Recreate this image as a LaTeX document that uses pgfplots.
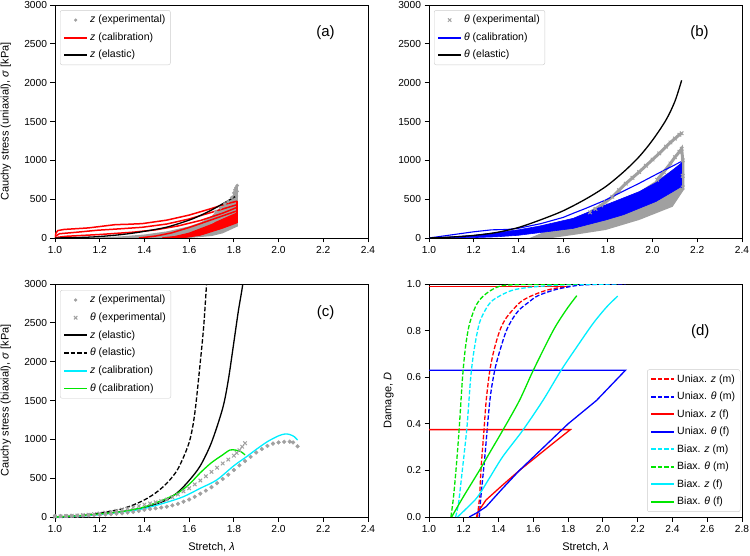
\documentclass[border=0pt]{standalone}
\usepackage{fontspec}
\setmainfont{Liberation Sans}
\usepackage{pgfplots}
\pgfplotsset{compat=1.18}
\definecolor{expgray}{RGB}{160,160,160}
\definecolor{cred}{RGB}{255,0,0}
\definecolor{cblue}{RGB}{0,0,255}
\definecolor{ccyan}{RGB}{0,238,255}
\definecolor{cgreen}{RGB}{0,230,0}
\pgfplotsset{
  base/.style={
    scale only axis, width=313pt, height=233pt,
    xmin=1, xmax=2.4, ymin=0, ymax=3000,
    axis line style={line width=0.9pt},
    tick pos=left, tick align=outside, major tick length=4.5pt,
    every tick/.style={black, line width=0.9pt},
    xtick={1.0,1.2,1.4,1.6,1.8,2.0,2.2,2.4},
    ytick={0,500,1000,1500,2000,2500,3000},
    x tick label style={/pgf/number format/.cd, fixed, fixed zerofill, precision=1, /tikz/.cd},
    y tick label style={/pgf/number format/.cd, fixed, 1000 sep={}, /tikz/.cd},
    scaled ticks=false,
    /pgf/number format/assume math mode=true,
    ticklabel style={font=\fontsize{10.2}{12}\selectfont},
    legend cell align=left,
    legend style={draw=black!20, rounded corners=2pt, fill=white,
      font=\fontsize{10.5}{12}\selectfont, row sep=3pt, inner xsep=3pt, inner ysep=2.5pt,
      nodes={inner sep=2pt, text height=8pt, text depth=2.5pt}},
    legend image code/.code={\draw[mark repeat=2,mark phase=2,##1] plot coordinates {(0pt,0pt) (11.5pt,0pt) (23pt,0pt)};},
    ylabel style={font=\fontsize{11}{13}\selectfont, at={(axis description cs:-0.157,0.5)}, anchor=center, rotate=0},
    xlabel style={font=\fontsize{11}{13}\selectfont, at={(axis description cs:0.5,-0.129)}, anchor=center},
  },
  dsh/.style={dash pattern=on 4.5pt off 2pt},
  leg/.style={line width=1.9pt},
}
\begin{document}
\begin{tikzpicture}[x=1pt,y=1pt]
\useasboundingbox (0,0) rectangle (750,555);

% ---------------- (a) ----------------
\begin{axis}[base, at={(55pt,317pt)}, anchor=south west,
  ylabel={Cauchy stress (uniaxial), \textit{σ} [kPa]},
  legend style={at={(0.016,0.978)}, anchor=north west}]
\addplot[fill=expgray, draw=none, forget plot] coordinates {
(1.15,0)(1.2,8)(1.3,22)(1.4,45)(1.5,85)(1.6,150)(1.65,200)(1.7,280)(1.726,357)(1.75,420)(1.785,500)(1.80,580)(1.812,670)(1.818,660)(1.818,200)(1.818,150)(1.75,60)(1.7,25)(1.6,0)};
\addplot[only marks, mark=*, mark size=1.6pt, color=expgray, forget plot] coordinates {
(1.72,340)(1.74,390)(1.76,440)(1.775,470)(1.79,520)(1.80,580)(1.805,620)(1.81,650)(1.815,675)(1.815,600)(1.812,540)};
\addplot[fill=cred, draw=none, forget plot] coordinates {
(1.5,0)(1.6,70)(1.7,180)(1.76,250)(1.815,320)(1.815,190)(1.75,120)(1.65,30)(1.58,0)};
\addplot[cred, line width=1.5pt, forget plot] coordinates {
(1.0,0)(1.004,60)(1.012,95)(1.04,110)(1.15,130)(1.27,172)(1.32,176)(1.39,185)(1.5,230)(1.6,295)(1.7,380)(1.76,435)(1.815,475)};
\addplot[cred, line width=1.5pt, forget plot] coordinates {
(1.0,20)(1.02,55)(1.1,75)(1.19,100)(1.3,120)(1.39,138)(1.5,180)(1.6,245)(1.7,330)(1.815,430)};
\addplot[cred, line width=1.5pt, forget plot] coordinates {
(1.0,5)(1.05,22)(1.2,45)(1.35,75)(1.45,105)(1.55,155)(1.65,225)(1.75,320)(1.815,395)};
\addplot[cred, line width=1.5pt, forget plot] coordinates {
(1.375,0)(1.45,25)(1.52,65)(1.605,140)(1.7,235)(1.815,350)};
\addplot[cred, line width=1.5pt, forget plot] coordinates {
(1.48,0)(1.55,20)(1.65,80)(1.72,160)(1.815,290)};
\addplot[cred, line width=1.5pt, forget plot] coordinates {
(1.55,0)(1.65,45)(1.75,140)(1.815,230)};
\addplot[cred, line width=1.5pt, forget plot] coordinates {
(1.64,50)(1.72,200)(1.815,320)};
\addplot[cred, line width=1.5pt, forget plot] coordinates {(1.815,190)(1.815,480)};
\addplot[black, line width=1.3pt, smooth, forget plot] coordinates {
(1.0,0)(1.1,6)(1.19,17)(1.3,45)(1.39,81)(1.5,140)(1.6,230)(1.65,290)(1.7,360)(1.75,440)(1.81,540)};
\addlegendimage{only marks, mark=*, mark size=1.4pt, color=expgray}
\addlegendentry{\textit{z} (experimental)}
\addlegendimage{color=cred, leg}
\addlegendentry{\textit{z} (calibration)}
\addlegendimage{color=black, leg}
\addlegendentry{\textit{z} (elastic)}
\node[font=\fontsize{15}{17}\selectfont] at (axis cs:2.21,2640) {(a)};
\end{axis}

% ---------------- (b) ----------------
\begin{axis}[base, at={(429pt,317pt)}, anchor=south west,
  legend style={at={(0.016,0.978)}, anchor=north west}]
\addplot[fill=expgray, draw=none, forget plot] coordinates {
(1.45,0)(1.5,60)(1.645,253)(1.79,425)(1.94,596)(2.09,876)(2.14,960)(2.14,620)(2.09,403)(1.94,232)(1.79,103)(1.645,39)(1.55,0)};
\addplot[expgray, line width=3pt, mark=x, mark size=2.5pt, mark options={line width=1pt}, forget plot] coordinates {
(1.72,330)(1.745,375)(1.77,420)(1.79,465)(1.82,530)(1.85,615)(1.88,700)(1.91,775)(1.94,850)(1.97,930)(2.0,1010)(2.03,1090)(2.06,1176)(2.08,1230)(2.1,1280)(2.12,1330)(2.13,1348)};
\addplot[expgray, line width=3pt, mark=x, mark size=2.5pt, mark options={line width=1pt}, forget plot] coordinates {
(2.02,750)(2.05,850)(2.08,960)(2.1,1040)(2.12,1110)(2.13,1150)(2.135,1000)(2.135,800)(2.135,650)};
\addplot[fill=cblue, draw=cblue, line width=0.6pt, forget plot] coordinates {
(1.0,0)(1.1,15)(1.2,35)(1.3,70)(1.4,105)(1.495,154)(1.645,253)(1.79,425)(1.94,596)(2.02,720)(2.09,876)(2.127,960)(2.13,980)(2.13,650)(2.127,660)(2.09,596)(2.015,470)(1.94,382)(1.87,300)(1.79,232)(1.645,124)(1.495,69)(1.4,35)(1.3,15)(1.2,5)(1.1,0)};
\addplot[cblue, line width=1.1pt, forget plot] coordinates {
(1.0,0)(1.1,40)(1.2,80)(1.28,105)(1.35,110)(1.4,125)(1.5,185)(1.6,265)(1.645,318)(1.7,380)(1.79,489)(1.86,590)(1.94,704)(2.03,840)(2.127,982)};
\addplot[cblue, line width=1.5pt, forget plot] coordinates {(2.13,640)(2.13,990)};
\addplot[black, line width=1.3pt, smooth, forget plot] coordinates {
(1.0,0)(1.1,12)(1.2,33)(1.3,70)(1.4,135)(1.5,235)(1.6,350)(1.7,500)(1.79,661)(1.87,850)(1.94,1047)(2.0,1260)(2.06,1519)(2.1,1760)(2.13,2030)};
\addlegendimage{only marks, mark=x, mark size=2.4pt, color=expgray, line width=1pt}
\addlegendentry{\textit{θ} (experimental)}
\addlegendimage{color=cblue, leg}
\addlegendentry{\textit{θ} (calibration)}
\addlegendimage{color=black, leg}
\addlegendentry{\textit{θ} (elastic)}
\node[font=\fontsize{15}{17}\selectfont] at (axis cs:2.21,2640) {(b)};
\end{axis}

% ---------------- (c) ----------------
\begin{axis}[base, at={(55pt,38pt)}, anchor=south west,
  ylabel={Cauchy stress (biaxial), \textit{σ} [kPa]},
  xlabel={Stretch, \textit{λ}},
  legend style={at={(0.016,0.974)}, anchor=north west, row sep=3.2pt}]
\addplot[only marks, mark=*, mark size=1.9pt, color=expgray, forget plot] coordinates {
(1.0,12)(1.025,13)(1.05,14)(1.075,15)(1.1,17)(1.125,19)(1.15,22)(1.175,25)(1.2,28)(1.225,32)(1.25,36)(1.275,42)(1.3,48)(1.325,56)(1.35,65)(1.375,78)(1.4,92)(1.425,102)(1.45,112)(1.475,122)(1.5,133)(1.525,150)(1.55,170)(1.575,197)(1.6,225)(1.625,260)(1.65,300)(1.675,340)(1.7,385)(1.725,435)(1.75,490)(1.775,545)(1.8,605)(1.825,665)(1.85,720)(1.875,775)(1.9,830)(1.925,875)(1.95,915)(1.975,945)(2.0,960)(2.025,968)(2.05,970)(2.065,960)(2.085,910)};
\addplot[only marks, mark=x, mark size=2.5pt, mark options={line width=1pt}, color=expgray, forget plot] coordinates {
(1.0,5)(1.025,8)(1.05,12)(1.075,16)(1.1,20)(1.125,25)(1.15,30)(1.175,37)(1.2,45)(1.225,55)(1.25,65)(1.275,80)(1.3,95)(1.325,110)(1.35,125)(1.375,142)(1.4,160)(1.425,175)(1.45,190)(1.475,207)(1.5,225)(1.525,255)(1.55,290)(1.575,330)(1.6,370)(1.625,420)(1.65,470)(1.675,525)(1.7,580)(1.725,635)(1.75,690)(1.775,740)(1.8,790)(1.8125,825)(1.825,860)(1.8375,905)(1.85,950)};
\addplot[black, line width=1.3pt, smooth, forget plot] coordinates {
(1.0,0)(1.05,4)(1.1,12)(1.15,24)(1.2,40)(1.25,55)(1.3,70)(1.35,90)(1.4,120)(1.45,165)(1.5,222)(1.55,320)(1.6,470)(1.65,660)(1.7,960)(1.75,1400)(1.775,1760)(1.8,2250)(1.82,2650)(1.84,3000)(1.85,3300)};
\addplot[black, line width=1.3pt, dsh, smooth, forget plot] coordinates {
(1.0,0)(1.05,6)(1.1,15)(1.15,30)(1.2,52)(1.25,75)(1.3,105)(1.35,155)(1.4,220)(1.45,310)(1.5,434)(1.55,620)(1.6,960)(1.625,1330)(1.65,2000)(1.665,2450)(1.678,3000)(1.69,3500)};
\addplot[ccyan, line width=1.3pt, smooth, forget plot] coordinates {
(1.0,0)(1.1,10)(1.2,30)(1.3,65)(1.4,110)(1.5,190)(1.574,261)(1.65,370)(1.723,476)(1.8,660)(1.857,777)(1.9,870)(1.95,970)(2.0,1045)(2.029,1069)(2.05,1062)(2.07,1035)(2.085,990)};
\addplot[cgreen, line width=1.3pt, smooth, forget plot] coordinates {
(1.0,0)(1.1,15)(1.2,40)(1.3,70)(1.4,130)(1.5,240)(1.55,310)(1.6,420)(1.65,570)(1.7,700)(1.75,800)(1.783,863)(1.81,860)(1.83,845)(1.85,800)};
\addlegendimage{only marks, mark=*, mark size=1.4pt, color=expgray}
\addlegendentry{\textit{z} (experimental)}
\addlegendimage{only marks, mark=x, mark size=2.4pt, color=expgray, line width=1pt}
\addlegendentry{\textit{θ} (experimental)}
\addlegendimage{legend image code/.code={\draw[black, line width=1.9pt] (0pt,0pt) -- (23pt,0pt);}}
\addlegendentry{\textit{z} (elastic)}
\addlegendimage{legend image code/.code={\draw[black, line width=1.9pt, dash pattern=on 4.5pt off 2pt] (0pt,0pt) -- (23pt,0pt);}}
\addlegendentry{\textit{θ} (elastic)}
\addlegendimage{legend image code/.code={\draw[ccyan, line width=1.9pt] (0pt,0pt) -- (23pt,0pt);}}
\addlegendentry{\textit{z} (calibration)}
\addlegendimage{legend image code/.code={\draw[cgreen, line width=1.9pt] (0pt,0pt) -- (23pt,0pt);}}
\addlegendentry{\textit{θ} (calibration)}
\node[font=\fontsize{15}{17}\selectfont] at (axis cs:2.21,2627) {(c)};
\end{axis}

% ---------------- (d) ----------------
\begin{axis}[base, at={(429pt,38pt)}, anchor=south west,
  xmax=2.8, ymax=1,
  xtick={1.0,1.2,1.4,1.6,1.8,2.0,2.2,2.4,2.6,2.8},
  ytick={0,0.2,0.4,0.6,0.8,1.0},
  y tick label style={/pgf/number format/.cd, fixed, fixed zerofill, precision=1, /tikz/.cd},
  ylabel={Damage, \textit{D}},
  ylabel style={at={(axis description cs:-0.129,0.5)}},
  xlabel={Stretch, \textit{λ}},
  legend style={at={(0.995,0.022)}, anchor=south east}]
\addplot[cred, line width=1.3pt, dsh, smooth, forget plot] coordinates {
(1.277,0)(1.29,0.08)(1.30,0.215)(1.315,0.36)(1.329,0.50)(1.35,0.63)(1.375,0.72)(1.407,0.80)(1.44,0.85)(1.483,0.89)(1.53,0.925)(1.58,0.946)(1.65,0.967)(1.714,0.98)(1.81,0.99)};
\addplot[cred, line width=1.5pt, forget plot] coordinates {(1.81,0.99)(1.0,0.99)};
\addplot[cblue, line width=1.3pt, dsh, smooth, forget plot] coordinates {
(1.289,0)(1.30,0.10)(1.32,0.25)(1.35,0.50)(1.378,0.63)(1.41,0.72)(1.445,0.80)(1.48,0.85)(1.52,0.89)(1.57,0.92)(1.617,0.946)(1.68,0.965)(1.75,0.98)(1.866,0.995)(2.0,0.999)(2.13,1.0)};
\addplot[cred, line width=1.3pt, forget plot] coordinates {
(1.273,0)(1.28,0.02)(1.328,0.073)(1.42,0.135)(1.52,0.20)(1.62,0.26)(1.713,0.316)(1.813,0.375)(1.0,0.375)};
\addplot[cblue, line width=1.3pt, forget plot] coordinates {
(1.231,0)(1.28,0.02)(1.328,0.044)(1.42,0.12)(1.52,0.20)(1.66,0.30)(1.80,0.40)(1.963,0.50)(2.13,0.63)(1.0,0.63)};
\addplot[ccyan, line width=1.3pt, dsh, smooth, forget plot] coordinates {
(1.153,0)(1.17,0.06)(1.19,0.19)(1.205,0.29)(1.22,0.40)(1.24,0.60)(1.26,0.72)(1.289,0.83)(1.325,0.89)(1.366,0.93)(1.45,0.965)(1.52,0.98)(1.64,0.99)(1.8,0.997)(2.08,1.0)};
\addplot[cgreen, line width=1.3pt, dsh, smooth, forget plot] coordinates {
(1.126,0)(1.14,0.08)(1.155,0.2)(1.173,0.373)(1.193,0.60)(1.21,0.73)(1.23,0.82)(1.26,0.89)(1.289,0.93)(1.34,0.965)(1.405,0.99)(1.5,0.997)(1.85,1.0)};
\addplot[ccyan, line width=1.3pt, smooth, forget plot] coordinates {
(1.164,0)(1.22,0.04)(1.28,0.087)(1.35,0.17)(1.425,0.26)(1.54,0.373)(1.655,0.50)(1.76,0.63)(1.85,0.73)(1.943,0.83)(2.02,0.90)(2.085,0.948)};
\addplot[cgreen, line width=1.3pt, smooth, forget plot] coordinates {
(1.13,0)(1.2,0.09)(1.29,0.20)(1.36,0.29)(1.425,0.373)(1.52,0.50)(1.60,0.63)(1.714,0.80)(1.79,0.89)(1.85,0.95)};
\addlegendimage{color=cred, leg, dsh}
\addlegendentry{Uniax. \textit{z} (m)}
\addlegendimage{color=cblue, leg, dsh}
\addlegendentry{Uniax. \textit{θ} (m)}
\addlegendimage{color=cred, leg}
\addlegendentry{Uniax. \textit{z} (f)}
\addlegendimage{color=cblue, leg}
\addlegendentry{Uniax. \textit{θ} (f)}
\addlegendimage{color=ccyan, leg, dsh}
\addlegendentry{Biax. \textit{z} (m)}
\addlegendimage{color=cgreen, leg, dsh}
\addlegendentry{Biax. \textit{θ} (m)}
\addlegendimage{color=ccyan, leg}
\addlegendentry{Biax. \textit{z} (f)}
\addlegendimage{color=cgreen, leg}
\addlegendentry{Biax. \textit{θ} (f)}
\node[font=\fontsize{15}{17}\selectfont] at (axis cs:2.56,0.794) {(d)};
\end{axis}
\end{tikzpicture}
\end{document}
